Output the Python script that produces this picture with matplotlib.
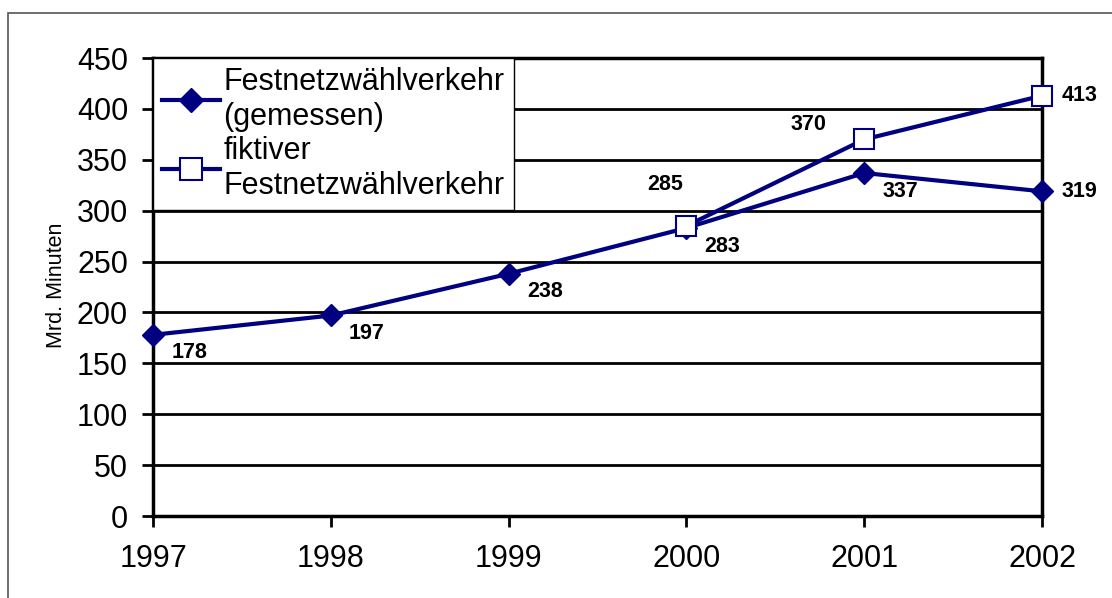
import matplotlib.pyplot as plt
from matplotlib.patches import Rectangle

plt.rcParams['font.family'] = ['Liberation Sans', 'DejaVu Sans']

jahre = [1997, 1998, 1999, 2000, 2001, 2002]
gemessen = [178, 197, 238, 283, 337, 319]
fiktiv_jahre = [2000, 2001, 2002]
fiktiv = [285, 370, 413]

navy = '#000080'

fig = plt.figure(figsize=(11.12, 5.98), dpi=100)
ax = fig.add_axes([153 / 1112, 1 - 516 / 598, (1042 - 153) / 1112, (516 - 58) / 598])

# Rahmen um die ganze Grafik
fig.patches.append(Rectangle((8 / 1112, -0.1), 1.2, 1 - 13 / 598 + 0.1,
                             transform=fig.transFigure, fill=False,
                             edgecolor='#555555', linewidth=1.2))

ax.plot(jahre, gemessen, color=navy, linewidth=3, marker='D', markersize=11,
        markerfacecolor=navy, markeredgecolor=navy,
        label='Festnetzwählverkehr\n(gemessen)', zorder=3, clip_on=False)
ax.plot(fiktiv_jahre, fiktiv, color=navy, linewidth=3, marker='s', markersize=14,
        markerfacecolor='white', markeredgecolor=navy, markeredgewidth=1.5,
        label='fiktiver\nFestnetzwählverkehr', zorder=4, clip_on=False)

# Datenbeschriftungen
for x, y in zip(jahre, gemessen):
    if x == 2002:
        ax.annotate(str(y), (x, y), xytext=(14, 0), textcoords='offset points',
                    ha='left', va='center', fontsize=15.5, fontweight='bold')
    else:
        ax.annotate(str(y), (x, y), xytext=(26, -13), textcoords='offset points',
                    ha='center', va='center', fontsize=15.5, fontweight='bold')
fiktiv_offsets = [(-15, 30), (-40, 11), (14, 0)]
for (x, y), (dx, dy) in zip(zip(fiktiv_jahre, fiktiv), fiktiv_offsets):
    ax.annotate(str(y), (x, y), xytext=(dx, dy), textcoords='offset points',
                ha='center' if x != 2002 else 'left', va='center',
                fontsize=15.5, fontweight='bold')

ax.set_xlim(1997, 2002)
ax.set_ylim(0, 450)
ax.set_yticks(range(0, 451, 50))
ax.set_xticks(jahre)
ax.tick_params(axis='both', labelsize=22, width=2, length=8, direction='out')
ax.tick_params(axis='x', pad=12)
ax.tick_params(axis='y', pad=10)
ax.grid(axis='y', color='black', linewidth=2)
ax.set_axisbelow(True)
for s in ax.spines.values():
    s.set_linewidth(2.5)
fig.text(57 / 1112, 1 - 285 / 598, 'Mrd. Minuten', rotation=90,
         ha='center', va='center', fontsize=15.5)

leg = ax.legend(loc='upper left', bbox_to_anchor=(0, 1), fontsize=22,
                frameon=True, fancybox=False, borderaxespad=0,
                handlelength=1.9, handletextpad=0.1, labelspacing=0.15,
                borderpad=0.3, markerscale=1.15)
leg.get_frame().set_edgecolor('black')
leg.get_frame().set_linewidth(1)
leg.get_frame().set_alpha(1)
leg.set_zorder(10)
for t in leg.get_texts():
    t.set_linespacing(1.2)

plt.savefig('out.png', dpi=100)
